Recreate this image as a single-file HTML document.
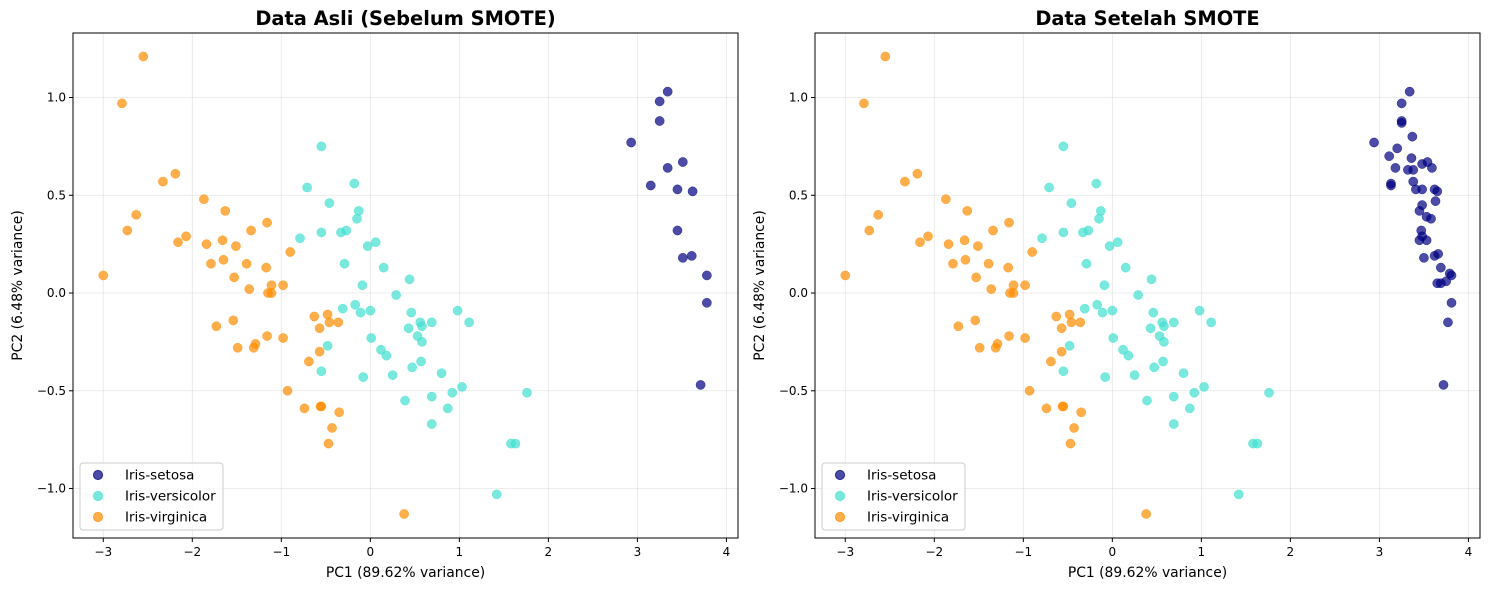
<!DOCTYPE html>
<html><head><meta charset="utf-8"><style>
body{margin:0;background:#fff;}
svg{display:block;font-family:"DejaVu Sans","Liberation Sans",sans-serif;}
</style></head><body>
<svg id="fig" width="1490" height="590"></svg>
<script>
const setosaLeft=[[3.34,1.03],[3.25,0.98],[3.25,0.88],[2.93,0.77],[3.15,0.55],[3.34,0.64],[3.51,0.67],[3.45,0.53],[3.62,0.52],[3.45,0.32],[3.61,0.19],[3.51,0.18],[3.78,0.09],[3.78,-0.05],[3.71,-0.47]];
const setosaRight=[[2.94,0.77],[3.20,0.74],[3.11,0.70],[3.18,0.64],[3.13,0.55],[3.13,0.56],[3.34,1.03],[3.25,0.97],[3.25,0.88],[3.25,0.87],[3.37,0.80],[3.36,0.69],[3.32,0.63],[3.38,0.63],[3.38,0.57],[3.41,0.53],[3.48,0.66],[3.54,0.67],[3.59,0.64],[3.48,0.53],[3.48,0.45],[3.45,0.42],[3.53,0.39],[3.47,0.32],[3.48,0.29],[3.53,0.27],[3.45,0.27],[3.50,0.18],[3.58,0.38],[3.63,0.47],[3.62,0.53],[3.65,0.52],[3.62,0.19],[3.66,0.20],[3.69,0.13],[3.69,0.05],[3.75,0.06],[3.79,0.10],[3.81,0.09],[3.77,-0.15],[3.81,-0.05],[3.72,-0.47],[3.65,0.05]];
const versicolor=[[-0.55,0.75],[-0.71,0.54],[-0.18,0.56],[-0.13,0.42],[-0.15,0.38],[-0.46,0.46],[-0.27,0.32],[-0.33,0.31],[-0.55,0.31],[-0.79,0.28],[-0.03,0.24],[0.06,0.26],[-0.29,0.15],[0.15,0.13],[0.44,0.07],[0.29,-0.01],[-0.09,0.04],[-0.17,-0.06],[-0.31,-0.08],[0.00,-0.09],[-0.11,-0.10],[0.46,-0.10],[0.56,-0.15],[0.69,-0.15],[0.43,-0.18],[0.58,-0.17],[0.53,-0.22],[0.58,-0.25],[0.01,-0.23],[0.12,-0.29],[0.18,-0.32],[-0.48,-0.27],[-0.55,-0.40],[-0.08,-0.43],[0.25,-0.42],[0.57,-0.35],[0.47,-0.38],[0.80,-0.41],[1.03,-0.48],[0.69,-0.53],[0.39,-0.55],[0.92,-0.51],[0.87,-0.59],[1.76,-0.51],[0.69,-0.67],[0.98,-0.09],[1.11,-0.15],[1.58,-0.77],[1.63,-0.77],[1.42,-1.03]];
const virginica=[[-2.55,1.21],[-2.79,0.97],[-2.33,0.57],[-2.19,0.61],[-2.63,0.40],[-2.73,0.32],[-3.00,0.09],[-1.87,0.48],[-1.63,0.42],[-2.07,0.29],[-2.16,0.26],[-1.84,0.25],[-1.66,0.27],[-1.79,0.15],[-1.65,0.17],[-1.51,0.24],[-1.34,0.32],[-1.16,0.36],[-0.90,0.21],[-1.39,0.15],[-1.53,0.08],[-1.17,0.13],[-1.36,0.02],[-1.15,0.00],[-1.11,0.04],[-1.11,0.00],[-0.98,0.04],[-1.54,-0.14],[-1.73,-0.17],[-1.49,-0.28],[-1.31,-0.28],[-1.29,-0.26],[-1.16,-0.22],[-0.98,-0.23],[-0.93,-0.50],[-0.74,-0.59],[-0.56,-0.58],[-0.55,-0.58],[-0.35,-0.61],[-0.43,-0.69],[-0.47,-0.77],[-0.69,-0.35],[-0.57,-0.30],[-0.63,-0.12],[-0.57,-0.18],[-0.46,-0.15],[-0.48,-0.11],[-0.36,-0.15],[0.38,-1.13]];
const xTicks=[-3,-2,-1,0,1,2,3,4];
const yTicks=[1.0,0.5,0.0,-0.5,-1.0];
const yTickLabels=["1.0","0.5","0.0","−0.5","−1.0"];
const titles=["Data Asli (Sebelum SMOTE)","Data Setelah SMOTE"];
const classNames=["Iris-setosa","Iris-versicolor","Iris-virginica"];
const colors=["#000080","#40E0D0","#FF8C00"];

const NS="http://www.w3.org/2000/svg";
const fig=document.getElementById('fig');
function mk(tag,attrs,parent){const e=document.createElementNS(NS,tag);for(const k in attrs)e.setAttribute(k,attrs[k]);(parent||fig).appendChild(e);return e;}
const XD=[-3.34,4.13],YD=[-1.253,1.33];
function drawPanel(left,idx,setosa){
  const top=33,W=665,H=505;
  const sx=v=>left+(v-XD[0])/(XD[1]-XD[0])*W;
  const sy=v=>top+H-(v-YD[0])/(YD[1]-YD[0])*H;
  const g=mk('g',{});
  
  
  xTicks.forEach(t=>{const l=mk('line',{x1:sx(t),x2:sx(t),y1:top,y2:top+H,stroke:'#b0b0b0','stroke-width':0.8,'stroke-opacity':0.3},g);
    });
  yTicks.forEach(t=>{const l=mk('line',{x1:left,x2:left+W,y1:sy(t),y2:sy(t),stroke:'#b0b0b0','stroke-width':0.8,'stroke-opacity':0.3},g);
    });
  const series=[setosa,versicolor,virginica];
  series.forEach((pts,ci)=>{pts.forEach(p=>{const c=mk('circle',{cx:sx(p[0]),cy:sy(p[1]),r:4.6,fill:colors[ci],'fill-opacity':0.7,stroke:colors[ci],'stroke-opacity':0.7,'stroke-width':0.5},g);
    });});
  const fr=mk('rect',{x:left,y:top,width:W,height:H,fill:'none',stroke:'#000','stroke-width':1},g);
  
  xTicks.forEach(t=>{mk('line',{x1:sx(t),x2:sx(t),y1:top+H,y2:top+H+4,stroke:'#000'},g);
    const tx=mk('text',{x:sx(t),y:top+H+18,'text-anchor':'middle','font-size':12},g);tx.textContent=t<0?'−'+Math.abs(t):String(t);
    });
  yTicks.forEach((t,i)=>{mk('line',{x1:left-4,x2:left,y1:sy(t),y2:sy(t),stroke:'#000'},g);
    const tx=mk('text',{x:left-7,y:sy(t)+4,'text-anchor':'end','font-size':12},g);tx.textContent=yTickLabels[i];
    });
  const ti=mk('text',{x:left+W/2,y:25,'text-anchor':'middle','font-size':19.4,'font-weight':'bold'},g);ti.textContent=titles[idx];
  
  const xl=mk('text',{x:left+W/2,y:577,'text-anchor':'middle','font-size':13.9},g);xl.textContent='PC1 (89.62% variance)';
  
  const yl=mk('text',{x:0,y:0,'text-anchor':'middle','font-size':13.9,transform:`translate(${left-51},${top+H/2}) rotate(-90)`},g);yl.textContent='PC2 (6.48% variance)';
  
  const lg=mk('g',{},g);
  
  mk('rect',{x:left+7,y:463,width:143,height:67,rx:3,fill:'#fff','fill-opacity':0.8,stroke:'#ccc'},lg);
  classNames.forEach((n,i)=>{const cy=475+i*21;
    const c=mk('circle',{cx:left+25,cy:cy,r:4.6,fill:colors[i],'fill-opacity':0.7,stroke:colors[i],'stroke-opacity':0.7},lg);
    
    const t=mk('text',{x:left+52,y:cy+4.5,'font-size':13.5},lg);t.textContent=n;
    });
}
drawPanel(73,0,setosaLeft);
drawPanel(815,1,setosaRight);
</script>
</body></html>
